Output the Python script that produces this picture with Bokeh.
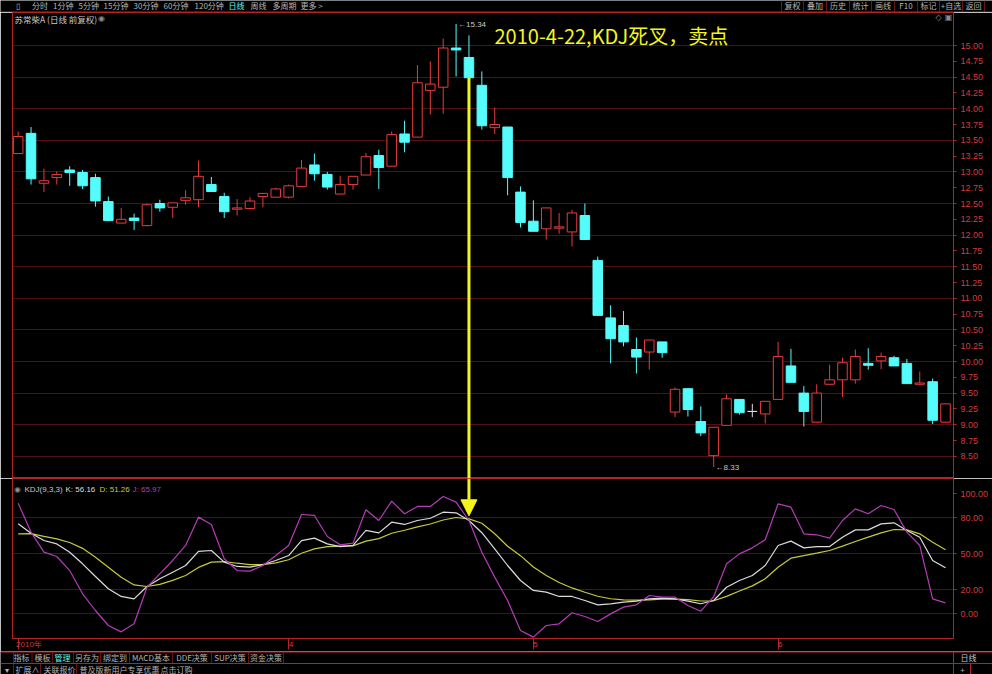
from bokeh.plotting import figure
from bokeh.layouts import column
from bokeh.models import (Range1d, FixedTicker, PrintfTickFormatter, Arrow,
                          NormalHead, ColumnDataSource)
from bokeh.core.properties import value
from bokeh.embed import file_html
from bokeh.resources import INLINE

# ---------------- data ----------------
opens = [13.29, 13.61, 12.82, 12.91, 13.03, 12.99, 12.91, 12.53, 12.19, 12.27,
         12.15, 12.50, 12.44, 12.55, 12.56, 12.80, 12.61, 12.41, 12.42, 12.61,
         12.60, 12.60, 12.77, 13.11, 12.96, 12.65, 12.80, 12.95, 13.26, 13.09,
         13.60, 13.55, 14.29, 14.34, 14.96, 14.81, 14.37, 13.70, 13.71, 12.68,
         12.22, 12.10, 12.11, 12.05, 12.31, 11.60, 10.69, 10.57, 10.19, 10.15,
         10.31, 9.20, 9.57, 9.05, 8.51, 8.99, 9.40, 9.21, 9.17, 9.40,
         9.93, 9.50, 9.04, 9.64, 9.71, 9.71, 9.97, 10.01, 10.06, 9.97,
         9.64, 9.68, 9.04]
highs = [13.64, 13.71, 13.05, 13.01, 13.09, 13.03, 12.97, 12.61, 12.43, 12.34,
         12.50, 12.56, 12.51, 12.71, 13.18, 12.92, 12.67, 12.57, 12.60, 12.66,
         12.75, 12.80, 13.19, 13.29, 13.00, 12.94, 12.93, 13.30, 13.35, 13.64,
         13.81, 14.69, 14.75, 15.11, 15.34, 15.16, 14.59, 14.02, 13.71, 12.77,
         12.55, 12.43, 12.35, 12.40, 12.50, 11.66, 10.89, 10.80, 10.38, 10.34,
         10.31, 9.59, 9.57, 9.29, 8.96, 9.48, 9.40, 9.33, 9.37, 10.31,
         10.20, 9.61, 9.64, 9.95, 10.06, 10.19, 10.21, 10.14, 10.09, 10.04,
         9.84, 9.73, 9.33]
lows = [13.29, 12.80, 12.68, 12.80, 12.78, 12.73, 12.45, 12.22, 12.19, 12.08,
        12.14, 12.37, 12.27, 12.48, 12.44, 12.69, 12.27, 12.31, 12.42, 12.44,
        12.60, 12.58, 12.77, 12.86, 12.72, 12.65, 12.72, 12.95, 12.73, 13.09,
        13.31, 13.55, 13.91, 13.92, 14.51, 14.49, 13.67, 13.60, 12.63, 12.12,
        12.06, 11.93, 12.02, 11.82, 11.93, 10.73, 9.97, 10.24, 9.81, 9.87,
        10.06, 9.12, 9.13, 8.82, 8.33, 8.99, 9.16, 9.12, 9.02, 9.40,
        9.67, 8.97, 9.04, 9.64, 9.44, 9.65, 9.87, 9.88, 9.93, 9.65,
        9.64, 9.01, 9.04]
closes = [13.56, 12.89, 12.86, 12.96, 12.99, 12.78, 12.54, 12.23, 12.25, 12.23,
          12.48, 12.43, 12.51, 12.59, 12.93, 12.69, 12.37, 12.43, 12.54, 12.66,
          12.73, 12.78, 13.06, 12.97, 12.76, 12.80, 12.93, 13.24, 13.07, 13.59,
          13.47, 14.41, 14.39, 14.96, 14.93, 14.49, 13.73, 13.75, 12.91, 12.20,
          12.06, 12.43, 12.13, 12.35, 11.93, 10.73, 10.36, 10.31, 10.07, 10.34,
          10.14, 9.56, 9.24, 8.87, 8.96, 9.41, 9.19, 9.21, 9.37, 10.08,
          9.67, 9.21, 9.50, 9.71, 9.98, 10.08, 9.94, 10.08, 9.93, 9.65,
          9.66, 9.07, 9.33]
k_vals = [74.7, 66.9, 60.8, 58.0, 51.1, 41.4, 30.8, 20.6, 14.2, 12.2,
          22.5, 28.9, 34.4, 40.0, 51.7, 52.5, 42.8, 39.2, 38.6, 40.8,
          44.2, 48.3, 60.8, 62.8, 58.0, 55.8, 56.7, 69.2, 67.2, 76.1,
          74.2, 77.5, 79.4, 84.4, 83.9, 77.5, 67.3, 53.9, 40.0, 27.5,
          19.2, 17.8, 14.2, 14.2, 10.8, 7.2, 8.1, 9.4, 10.3, 12.2,
          12.8, 12.2, 10.3, 8.1, 10.8, 21.9, 27.5, 31.7, 40.0, 56.7,
          60.3, 54.7, 55.8, 55.8, 63.6, 69.7, 69.7, 74.7, 75.6, 69.2,
          63.6, 44.2, 38.1]
d_vals = [66.4, 66.5, 64.2, 62.2, 59.2, 54.3, 46.9, 38.6, 30.2, 23.8,
          22.5, 24.3, 27.6, 31.7, 38.4, 42.8, 43.3, 41.9, 40.8, 40.8,
          42.2, 44.8, 50.2, 53.9, 55.8, 56.2, 56.4, 60.3, 62.4, 66.9,
          69.4, 72.2, 74.6, 77.9, 80.0, 78.9, 75.2, 66.5, 56.0, 48.2,
          38.7, 31.7, 25.8, 21.3, 17.7, 14.4, 12.3, 11.4, 11.1, 11.4,
          11.9, 12.0, 11.5, 10.4, 10.6, 14.3, 18.7, 23.0, 28.9, 38.6,
          46.1, 48.3, 50.3, 52.5, 56.1, 60.0, 63.6, 67.2, 70.0, 69.7,
          66.4, 59.4, 53.1]
j_vals = [91.9, 67.8, 51.1, 47.5, 35.8, 16.4, 2.5, -10.0, -15.3, -8.6,
          21.9, 33.0, 44.2, 56.7, 80.3, 74.2, 45.6, 35.8, 35.3, 40.0,
          48.3, 56.7, 82.5, 81.7, 64.2, 57.2, 58.6, 86.4, 77.5, 93.6,
          83.1, 89.2, 89.2, 97.5, 92.8, 77.5, 51.0, 30.3, 10.8, -14.2,
          -19.7, -10.0, -8.6, 0.6, -2.5, -6.7, -0.3, 5.3, 7.2, 15.0,
          13.6, 13.6, 6.7, 1.9, 14.0, 41.4, 49.7, 54.7, 61.4, 91.4,
          88.6, 66.4, 65.6, 62.8, 77.5, 87.2, 83.1, 90.0, 86.7, 67.8,
          56.7, 12.2, 8.9]
month_ticks = [0, 21, 40, 59]
month_labels = ["2010年", "4", "5", "6"]
price_ticks = [8.50, 8.75, 9.00, 9.25, 9.50, 9.75, 10.00, 10.25, 10.50, 10.75,
               11.00, 11.25, 11.50, 11.75, 12.00, 12.25, 12.50, 12.75, 13.00,
               13.25, 13.50, 13.75, 14.00, 14.25, 14.50, 14.75, 15.00]
price_grid = [8.5, 9.0, 9.5, 10.0, 10.5, 11.0, 11.5, 12.0, 12.5, 13.0, 13.5,
              14.0, 14.5, 15.0]
kdj_ticks = [0, 20, 50, 80, 100]
kdj_grid = [0, 20, 50, 80]
signal_idx = 35
signal_text = "2010-4-22,KDJ死叉，卖点"
stock_title = "苏常柴A (日线 前复权)"
kdj_name = "KDJ(9,3,3)"
kdj_k, kdj_d, kdj_j = 56.16, 51.26, 65.97

# ---------------- style ----------------
RED = "#B42323"
RED_TXT = "#D23C3C"
GRID = "#521010"
SEP = "#6A1616"
UP = "#E63C3C"
DN = "#54FCFC"
FLAT = "#DCDCDC"
YEL = "#F5F51E"
K_COL, D_COL, J_COL = "#DCDCDC", "#C8C83C", "#B43CB4"
UI = "#B4B4B4"
CJK = "Noto Sans CJK SC"
NUM = "Liberation Sans"

W = 992
LB = 12
FW = 941
RB = W - LB - FW
X0 = -0.44
X1 = 72.62
SP = FW / (X1 - X0)
TOP_H = 12


def ix(ref_x):
    return X0 + (ref_x - LB) / SP


def py(ref_y):
    return 15 - (ref_y - 45) / 63.2


def kv(ref_y):
    return (613 - ref_y) / 1.2


def canvas_fig(h):
    f = figure(width=W, height=h, x_range=Range1d(0, W), y_range=Range1d(0, h),
               toolbar_location=None, output_backend="svg",
               x_axis_location=None, y_axis_location=None,
               min_border=0, outline_line_color=None, frame_align=False,
               background_fill_color="black", border_fill_color="black")
    f.xgrid.visible = False
    f.ygrid.visible = False
    return f


def txt(f, xs, ys, texts, color, size="8px", align="center", font=CJK):
    f.text(x=xs, y=ys, text=texts, text_color=color, text_font=value(font),
           text_font_size=size, text_align=align, text_baseline="middle")


# ---------------- top toolbar ----------------
pt = canvas_fig(TOP_H)
top_left = [("▯", 15), ("分时", 31.5), ("1分钟", 52.5), ("5分钟", 78), ("15分钟", 103),
            ("30分钟", 133), ("60分钟", 163), ("120分钟", 194), ("日线", 228),
            ("周线", 250), ("多周期", 272), ("更多 >", 300)]
for lab, rx in top_left:
    txt(pt, [rx], [TOP_H / 2 + 1], [lab], DN if lab == "日线" else UI, "8px", "left")
seps = [781, 803, 826, 849, 871, 894, 917, 939, 962, 984]
top_right = ["复权", "叠加", "历史", "统计", "画线", "F10", "标记", "+自选", "返回"]
for k, lab in enumerate(top_right):
    txt(pt, [(seps[k] + seps[k + 1]) / 2], [TOP_H / 2 + 1], [lab], UI)
pt.segment(x0=seps, y0=[0] * len(seps), x1=seps, y1=[TOP_H] * len(seps),
           line_color=SEP, line_width=1)
pt.segment(x0=[0], y0=[0.5], x1=[W], y1=[0.5], line_color=RED, line_width=1)

# ---------------- price panel ----------------
p1 = figure(frame_width=FW, frame_height=478 - TOP_H, x_range=Range1d(X0, X1),
            y_range=Range1d(py(478), py(TOP_H)),
            x_axis_location=None, y_axis_location="right",
            toolbar_location=None, output_backend="svg", frame_align=False,
            min_border_left=LB, min_border_right=RB, min_border_top=0, min_border_bottom=0,
            background_fill_color="black", border_fill_color="black",
            outline_line_color=RED)
p1.xgrid.visible = False
p1.ygrid.ticker = FixedTicker(ticks=price_grid)
p1.ygrid.grid_line_color = GRID
p1.ygrid.grid_line_width = 1
ax = p1.yaxis[0]
ax.ticker = FixedTicker(ticks=price_ticks, minor_ticks=[])
ax.formatter = PrintfTickFormatter(format="%.2f")
ax.axis_line_color = RED
ax.major_tick_line_color = RED
ax.major_tick_out = 3
ax.major_tick_in = 0
ax.minor_tick_line_color = None
ax.major_label_text_color = RED_TXT
ax.major_label_text_font = NUM
ax.major_label_text_font_size = "9px"
ax.major_label_standoff = 4

idx = list(range(len(opens)))
colors = [UP if c > o else (DN if c < o else FLAT) for o, c in zip(opens, closes)]
fills = ["black" if c > o else (DN if c < o else FLAT) for o, c in zip(opens, closes)]
src = ColumnDataSource(dict(x=idx, o=opens, h=highs, l=lows, c=closes,
                            top=[max(o, c) for o, c in zip(opens, closes)],
                            bot=[min(o, c) for o, c in zip(opens, closes)],
                            color=colors, fill=fills))
p1.segment(x0="x", y0="l", x1="x", y1="h", line_color="color", line_width=1, source=src)
p1.vbar(x="x", width=0.74, top="top", bottom="bot", fill_color="fill",
        line_color="color", line_width=1, source=src)

# high / low marks
hi_i = highs.index(max(highs))
lo_i = lows.index(min(lows))
txt(p1, [hi_i + 0.15], [highs[hi_i]], ["←%.2f" % highs[hi_i]], "#C8C8C8", "8px", "left", NUM)
txt(p1, [lo_i + 0.15], [lows[lo_i]], ["←%.2f" % lows[lo_i]], "#C8C8C8", "8px", "left", NUM)

# titles
txt(p1, [ix(14)], [py(18)], [stock_title], "#C8C8C8", "8.5px", "left")
txt(p1, [ix(101)], [py(18)], ["◉"], "#8C8C8C", "8px", "center", "DejaVu Sans")
txt(p1, [ix(938), ix(948)], [py(17), py(17)], ["◇", "▣"], "#8C8C8C", "8px", "center", "DejaVu Sans")
txt(p1, [ix(494)], [py(35)], [signal_text], YEL, "20px", "left")

# signal arrow shaft in price panel
p1.segment(x0=[signal_idx], y0=[lows[signal_idx]], x1=[signal_idx], y1=[py(478)],
           line_color=YEL, line_width=3)

# ---------------- KDJ panel ----------------
p2 = figure(frame_width=FW, frame_height=160, x_range=p1.x_range,
            y_range=Range1d(kv(638), kv(478)),
            x_axis_location="below", y_axis_location="right",
            toolbar_location=None, output_backend="svg", frame_align=False,
            min_border_left=LB, min_border_right=RB, min_border_top=0, min_border_bottom=12,
            background_fill_color="black", border_fill_color="black",
            outline_line_color=RED)
p2.xgrid.visible = False
p2.ygrid.ticker = FixedTicker(ticks=kdj_grid)
p2.ygrid.grid_line_color = GRID
ay = p2.yaxis[0]
ay.ticker = FixedTicker(ticks=kdj_ticks, minor_ticks=[])
ay.formatter = PrintfTickFormatter(format="%.2f")
ay.axis_line_color = RED
ay.major_tick_line_color = RED
ay.major_tick_out = 3
ay.major_tick_in = 0
ay.minor_tick_line_color = None
ay.major_label_text_color = RED_TXT
ay.major_label_text_font = NUM
ay.major_label_text_font_size = "9px"
ay.major_label_standoff = 4


def padded(lab):
    # centred tick labels are padded on the left so that they start at the tick
    w = sum(8 if ord(ch) > 255 else 4.45 for ch in lab)
    return "\u00a0" * int(round((w + 2) / 3.8)) + lab


xa = p2.xaxis[0]
xa.ticker = FixedTicker(ticks=month_ticks, minor_ticks=[])
xa.major_label_overrides = {t: padded(l) for t, l in zip(month_ticks, month_labels)}
xa.major_label_standoff = -10
xa.major_tick_out = 11
xa.major_tick_in = 0
xa.major_tick_line_color = RED
xa.minor_tick_line_color = None
xa.axis_line_color = RED
xa.major_label_text_color = RED_TXT
xa.major_label_text_font = NUM
xa.major_label_text_font_size = "8px"

p2.line(idx, d_vals, line_color=D_COL, line_width=1.2)
p2.line(idx, k_vals, line_color=K_COL, line_width=1.2)
p2.line(idx, j_vals, line_color=J_COL, line_width=1.2)

p2.add_layout(Arrow(end=NormalHead(size=16, fill_color=YEL, line_color=YEL),
                    x_start=signal_idx, y_start=kv(478), x_end=signal_idx,
                    y_end=d_vals[signal_idx] + 2.5, line_color=YEL, line_width=3))

hy = kv(489)
txt(p2, [ix(17)], [hy], ["◉"], "#8C8C8C", "8px", "center", "DejaVu Sans")
txt(p2, [ix(24)], [hy], [kdj_name], "#C8C8C8", "8px", "left", NUM)
txt(p2, [ix(65)], [hy], ["K: %.2f" % kdj_k], K_COL, "8px", "left", NUM)
txt(p2, [ix(99)], [hy], ["D: %.2f" % kdj_d], D_COL, "8px", "left", NUM)
txt(p2, [ix(132)], [hy], ["J: %.2f" % kdj_j], J_COL, "8px", "left", NUM)

# ---------------- bottom toolbars ----------------
pb = canvas_fig(24)
row1 = [("指标", 21), ("模板", 42), ("管理", 62), ("另存为", 86.5), ("绑定到", 114.5),
        ("MACD基本", 150.5), ("DDE决策", 191.5), ("SUP决策", 229.5), ("资金决策", 265.5)]
for lab, rx in row1:
    txt(pb, [rx], [18], [lab], DN if lab == "管理" else UI)
s1 = [13, 31.5, 52, 73, 100, 129, 172, 211, 248, 283]
pb.segment(x0=s1, y0=[12] * len(s1), x1=s1, y1=[24] * len(s1), line_color=SEP, line_width=1)
row2 = [("▾", 6, "center"), ("扩展∧", 15, "left"), ("关联报价", 43, "left"),
        ("普及版新用户专享优惠", 79, "left"), ("点击订购", 160, "left")]
for lab, rx, al in row2:
    txt(pb, [rx], [6], [lab], UI, "8px", al)
s2 = [13, 40, 76]
pb.segment(x0=s2, y0=[0] * len(s2), x1=s2, y1=[12] * len(s2), line_color=SEP, line_width=1)
txt(pb, [968], [18], ["日线"], "#C8C8C8")
txt(pb, [962, 978], [6], ["+", "−"], UI)
pb.segment(x0=[0, 0], y0=[23.5, 12], x1=[W, W], y1=[23.5, 12], line_color=RED, line_width=1)
pb.segment(x0=[953, 970], y0=[0, 0], x1=[953, 970], y1=[24, 12], line_color=RED, line_width=1)

layout = column(pt, p1, p2, pb, spacing=0)
open("out.html", "w").write(file_html(layout, INLINE, title="KDJ"))
